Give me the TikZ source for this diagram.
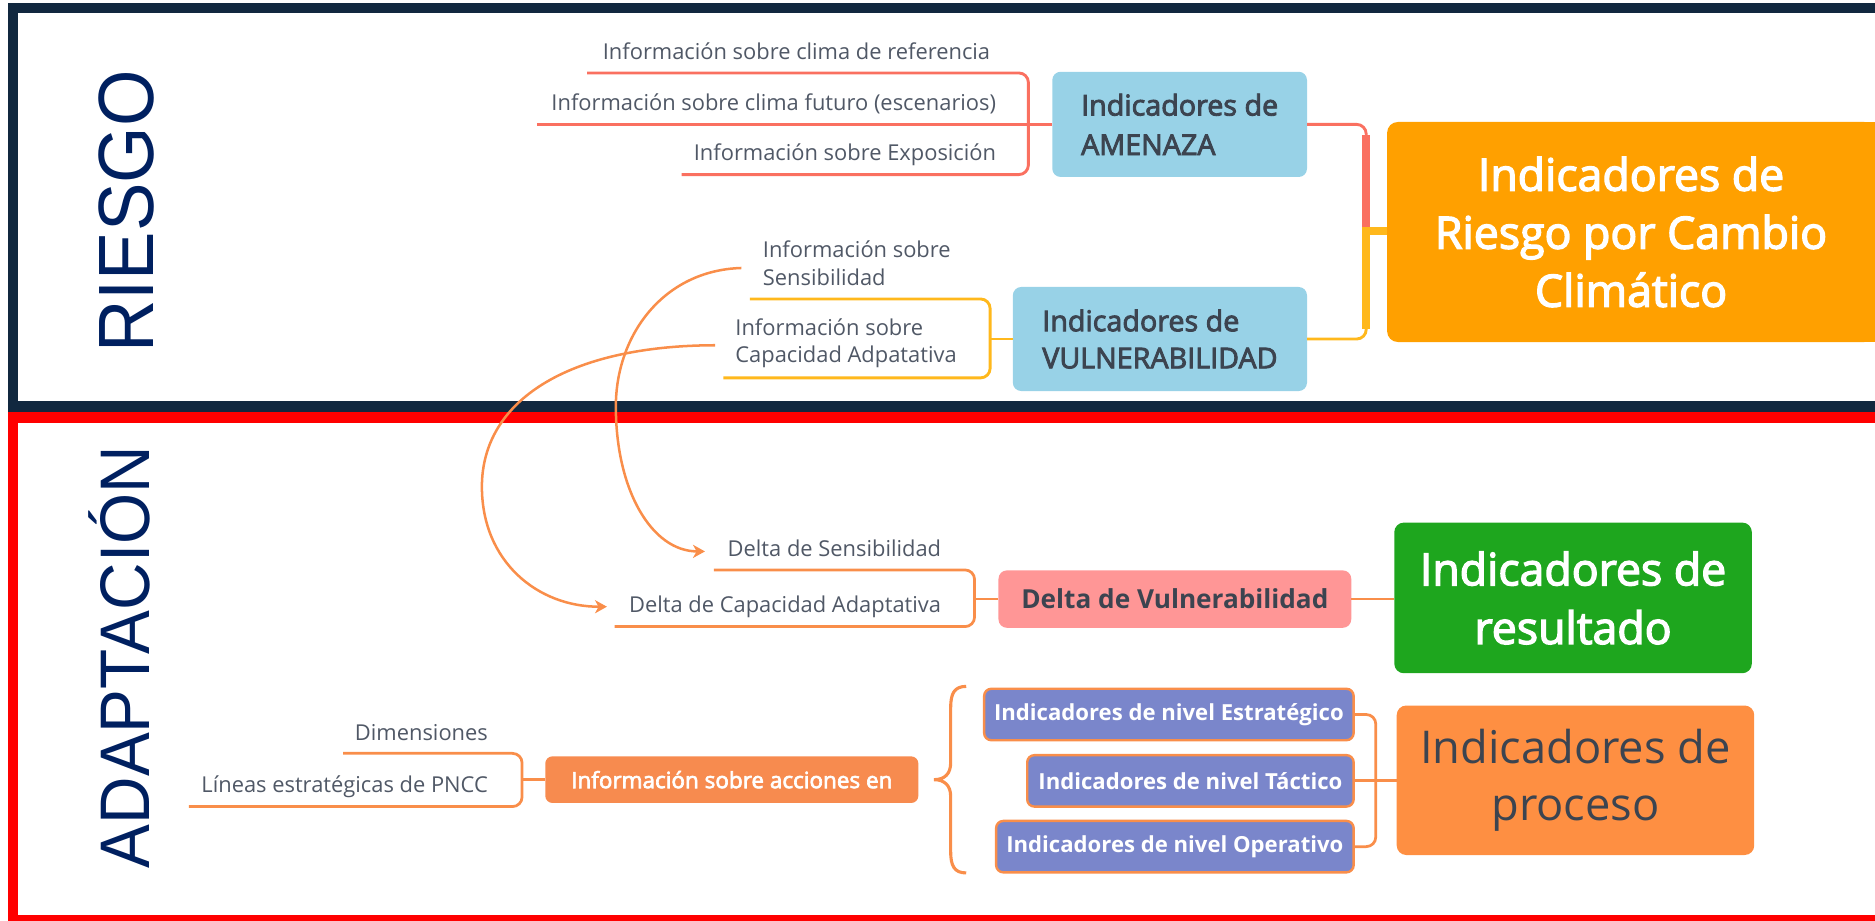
\documentclass[tikz,border=0pt]{standalone}
\usepackage{fontspec}
\setmainfont{Open Sans}
\newfontfamily\sbfont{Open Sans}[FakeBold=3]
\newfontfamily\ttlfont{Liberation Sans}
\usetikzlibrary{arrows.meta,calc}
\definecolor{navyf}{RGB}{17,40,63}
\definecolor{redf}{RGB}{255,0,0}
\definecolor{ttl}{RGB}{0,32,96}
\definecolor{lblue}{RGB}{152,210,231}
\definecolor{amber}{RGB}{255,160,0}
\definecolor{salmon}{RGB}{250,112,96}
\definecolor{gold}{RGB}{255,184,28}
\definecolor{orln}{RGB}{249,142,74}
\definecolor{pinkb}{RGB}{255,150,150}
\definecolor{greenb}{RGB}{30,166,30}
\definecolor{procb}{RGB}{254,143,66}
\definecolor{infob}{RGB}{247,139,79}
\definecolor{purp}{RGB}{122,134,203}
\definecolor{lgray}{RGB}{80,88,102}
\definecolor{dgray}{RGB}{60,68,80}
\begin{document}
\begin{tikzpicture}[x=1pt,y=-1pt,
  lbl/.style={inner sep=0pt, outer sep=0pt, text=lgray, font=\fontsize{18.3}{23}\selectfont},
  bx/.style={rounded corners=7pt, inner sep=0pt, outer sep=0pt},
  pb/.style={bx, rounded corners=6pt, fill=purp, draw=orln, line width=2pt, text=white,
     minimum height=43, font=\bfseries\fontsize{18.5}{20}\selectfont},
  bigtxt/.style={font=\sbfont\fontsize{37.3}{48.5}\selectfont, align=center},
  sline/.style={draw=salmon, line width=2.4pt},
  yline/.style={draw=gold, line width=2.4pt},
  oline/.style={draw=orln, line width=2.3pt},
  rc/.style={rounded corners=8pt},
  arr/.style={-{Stealth[length=10pt,width=11pt,inset=3pt]}}
]
\useasboundingbox (0,0) rectangle (1568,769.4);
\clip (0,0) rectangle (1568,769.4);
% frames
\draw[navyf, line width=8.8pt] (11,6.7) rectangle (1590,340);
\draw[redf, line width=8.8pt] (11,349.3) rectangle (1590,769.8);
% titles
\node[rotate=90, anchor=base, text=ttl, inner sep=0pt] (riesgo) at (128,177)
  {\ttlfont\fontsize{65.6}{70}\selectfont\scalebox{0.925}[1]{RIESGO}};
\node[rotate=90, anchor=base, text=ttl, inner sep=0pt] (adapt) at (125.4,549.5)
  {\ttlfont\fontsize{58.7}{62}\selectfont\scalebox{0.936}[1]{ADAPTACIÓN}};
% boxes
\node[bx, fill=lblue, minimum width=213, minimum height=88, align=left, text=dgray,
  font=\sbfont\fontsize{24}{33}\selectfont] (amz) at (986.5,104) {Indicadores de\\AMENAZA};
\node[bx, fill=lblue, minimum width=246, minimum height=87, align=left, text=dgray,
  font=\sbfont\fontsize{24}{31}\selectfont] (vul) at (970,283.5) {Indicadores de\\VULNERABILIDAD};
\node[bx, rounded corners=9pt, fill=amber, minimum width=408, minimum height=184, text=white,
  bigtxt] (rb) at (1364,194) {Indicadores de\\Riesgo por Cambio\\Climático};
\fill[amber] ($(rb.north east)+(-14,0)$) rectangle (rb.south east);
\node[bx, rounded corners=8pt, fill=greenb, minimum width=299, minimum height=126, text=white,
  bigtxt, font=\sbfont\fontsize{37.3}{49}\selectfont] (res) at (1315.5,500) {Indicadores de\\resultado};
\node[bx, rounded corners=8pt, fill=procb, minimum width=299, minimum height=125, text=dgray,
  align=center, font=\fontsize{37.8}{48}\selectfont] (proc) at (1317.5,652.5) {Indicadores de\\proceso};
\node[bx, fill=pinkb, minimum width=295, minimum height=48, text=dgray,
  font=\bfseries\fontsize{21.9}{26}\selectfont] (dv) at (982.5,501) {Delta de Vulnerabilidad};
\node[bx, rounded corners=6pt, fill=infob, minimum width=312, minimum height=39, text=white,
  font=\sbfont\fontsize{18.8}{22}\selectfont] (info) at (612,652) {Información sobre acciones en};
\node[pb, minimum width=309] (est) at (977.5,597.5) {Indicadores de nivel Estratégico};
\node[pb, minimum width=273] (tac) at (995.5,653) {Indicadores de nivel Táctico};
\node[pb, minimum width=299] (ope) at (982.5,708) {Indicadores de nivel Operativo};
% labels
\node[lbl, anchor=base east] (l1) at (828,50) {Información sobre clima de referencia};
\node[lbl, anchor=base east] (l2) at (833,92) {Información sobre clima futuro (escenarios)};
\node[lbl, anchor=base east] (l3) at (833,134) {Información sobre Exposición};
\node[lbl, anchor=north west, align=left] (l4) at (638,201.5) {Información sobre\\Sensibilidad};
\node[lbl, anchor=north west, align=left] (l5) at (615,266.5) {Información sobre\\Capacidad Adpatativa};
\node[lbl, anchor=base east] (l6) at (787,465) {Delta de Sensibilidad};
\node[lbl, anchor=base east] (l7) at (787,512.6) {Delta de Capacidad Adaptativa};
\node[lbl, anchor=base east] (l8) at (408,619) {Dimensiones};
\node[lbl, anchor=base east] (l9) at (408,663) {Líneas estratégicas de PNCC};
% underline ends and joints
\coordinate (u1) at (491,61);
\coordinate (u2) at (449,104);
\coordinate (u3) at (570,146);
\coordinate (ka) at (860,104);
\coordinate (u4) at (627,250);
\coordinate (u5) at (605,316);
\coordinate (kv) at (828,283.5);
\coordinate (u6) at (597,476.6);
\coordinate (u7) at (514,524);
\coordinate (kd) at (815,501);
\coordinate (u8) at (287,630);
\coordinate (u9) at (158,674.5);
\coordinate (ki) at (436.6,652);
\coordinate (kp) at (1150.5,653);
\coordinate (jn) at (1142.5,193);
% amenaza group
\draw[sline, rc] (u1) -| (ka) |- (u3);
\draw[sline] (u2) -- (amz.west);
% vulnerabilidad group
\draw[yline, rc] (u4) -| (kv) |- (u5);
\draw[yline] (kv) -- (vul.west);
% to central box
\draw[sline, rc] (amz.east) -| (jn);
\draw[salmon, line width=7pt] (1142.5,113) -- (jn);
\draw[yline, rc] (vul.east) -| (jn);
\draw[gold, line width=7pt] (1142.5,275) -- (jn);
\draw[gold, line width=6.5pt] ($(jn)+(-3.5,0)$) -- (jn -| rb.west);
% delta group
\draw[oline, rc] (u6) -| (kd) |- (u7);
\draw[oline] (kd) -- (dv.west);
\draw[oline] (dv.east) -- (dv.east -| res.west);
% info group
\draw[oline, rc] (u8) -| (ki) |- (u9);
\draw[oline] (ki) -- (info.west);
% brace
\draw[oline, line width=2.6pt] (808,574) .. controls (798,574) and (795,580) .. (795,592)
  -- (795,638) .. controls (795,647) and (790,652) .. (781,652)
  .. controls (790,652) and (795,657) .. (795,666)
  -- (795,712) .. controls (795,724) and (798,730) .. (808,730);
% process bracket
\draw[oline, rc] (est.east) -| (kp) |- (ope.east);
\draw[oline] (tac.east) -- (tac.east -| proc.west);
% curved arrows
\draw[oline, line width=2.1pt, arr] ($(l4.west)+(-18,4)$) .. controls (555,226) and (515,280) .. (515,340)
  .. controls (515,410) and (545,461) .. ($(l6.west)+(-19,3)$);
\draw[oline, line width=2.1pt, arr] ($(l5.west)+(-17,1.5)$) .. controls (475,289) and (403,335) .. (403,407)
  .. controls (403,470) and (450,507.5) .. ($(l7.west)+(-18.5,-0.5)$);
\end{tikzpicture}
\end{document}
